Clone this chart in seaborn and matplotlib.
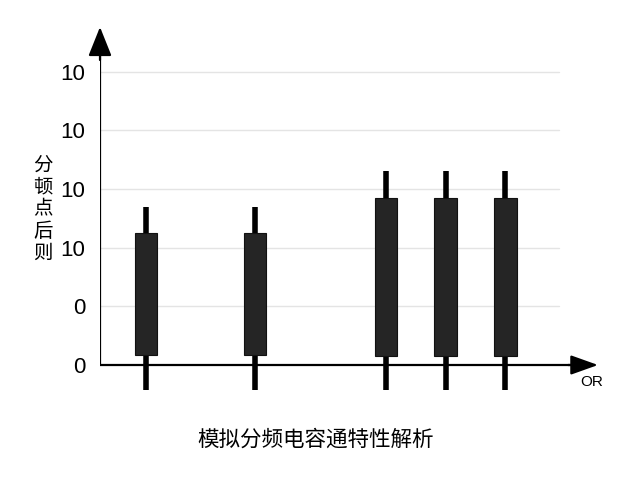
import matplotlib
matplotlib.use("Agg")
import matplotlib.pyplot as plt
import seaborn as sns
import numpy as np

# Data (y in tick units, 0 at the x axis)
x_pos = [0.92, 3.11, 5.74, 6.94, 8.14]
box_low = [0.176, 0.176, 0.153, 0.153, 0.153]
box_high = [2.255, 2.255, 2.85, 2.85, 2.85]
whisker_low = [-0.426, -0.426, -0.426, -0.426, -0.426]
whisker_high = [2.70, 2.70, 3.31, 3.31, 3.31]
y_ticks = [0, 1, 2, 3, 4, 5]
y_tick_labels = ["0", "0", "10", "10", "10", "10"]
x_label_end = "OR"
y_label = "分\n顿\n点\n后\n则"
title = "模拟分频电容通特性解析"

sns.set_theme(style="white")
plt.rcParams['font.family'] = ['Liberation Sans', 'Noto Sans CJK SC', 'DejaVu Sans']
plt.rcParams['text.color'] = 'black'
plt.rcParams['ytick.color'] = 'black'

fig = plt.figure(figsize=(6.4, 4.8), dpi=100)
# axes: x 100..598 px, y 27..400 px (from top)
ax = fig.add_axes([100 / 640, (480 - 400) / 480, 498 / 640, 373 / 480])
px = 58.66
ax.set_xlim(0, 10)
ax.set_ylim(-35 / px, (365 - 27) / px)

for s in ax.spines.values():
    s.set_visible(False)

# light gridlines
for t in y_ticks[1:]:
    ax.plot([0, 9.22], [t, t], color="#e4e4e4", lw=1.0, zorder=0)

# whiskers and bodies
ax.vlines(x_pos, whisker_low, whisker_high, color="black", lw=4.0, zorder=2)
heights = np.array(box_high) - np.array(box_low)
ax.bar(x_pos, heights, bottom=box_low, width=0.454, color="#252525",
       edgecolor="#111111", linewidth=0.8, zorder=3)

# axes with arrows
ax.plot([0, 9.45], [0, 0], color="black", lw=1.6, zorder=4, solid_capstyle="butt")
ax.annotate("", xy=(10, 0), xytext=(9.4, 0),
            arrowprops=dict(arrowstyle="-|>,head_length=1.4,head_width=0.5",
                            color="black", lw=1.6, shrinkA=0, shrinkB=0))
ax.plot([0, 0], [0, (365 - 52) / px], color="black", lw=1.6, zorder=4)
ax.annotate("", xy=(0, (365 - 27) / px), xytext=(0, (365 - 60) / px),
            arrowprops=dict(arrowstyle="-|>,head_length=1.5,head_width=0.6",
                            color="black", lw=1.6, shrinkA=0, shrinkB=0),
            annotation_clip=False)

ax.set_xticks([])
ax.set_yticks(y_ticks)
ax.set_yticklabels(y_tick_labels, fontsize=16)
ax.tick_params(axis="y", length=0, pad=10.5)

fig.text(580 / 640, 1 - 382 / 480, x_label_end, fontsize=11, ha="left", va="center")
fig.text(43 / 640, 1 - 210 / 480, y_label, fontsize=14, ha="center", va="center",
         linespacing=1.3)
fig.text(316 / 640, 1 - 440 / 480, title, fontsize=15.5, ha="center", va="center")

fig.savefig("out.png", dpi=100)
